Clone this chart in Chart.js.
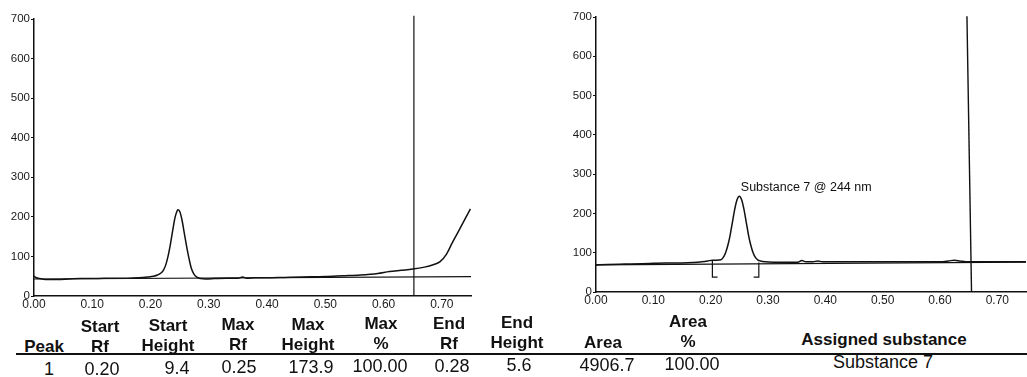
<!DOCTYPE html>
<html lang="en">
<head>
    <meta charset="UTF-8">
    <title>Densitogram - Substance 7</title>
    <script src="https://cdn.jsdelivr.net/npm/chart.js"></script>
    <style>
        body {
            margin: 0;
            background: #fff;
            font-family: 'Liberation Sans', Arial, sans-serif;
            color: #111;
        }
        .page {
            position: relative;
            width: 1027px;
            height: 377px;
            overflow: hidden;
        }
        canvas {
            position: absolute;
            top: 0;
        }
        #leftChart { left: 0; }
        #rightChart { left: 540px; }
        .cell {
            position: absolute;
            white-space: nowrap;
            transform: translate(-50%, -50%);
            line-height: 1;
        }
        .head { font-weight: bold; font-size: 17px; }
        .val { font-size: 18px; }
        .rule {
            position: absolute;
            left: 16px;
            right: 0;
            top: 353px;
            height: 1.5px;
            background: #111;
        }
    </style>
</head>
<body>
<div class="page">
    <canvas id="leftChart" width="480" height="320"></canvas>
    <canvas id="rightChart" width="487" height="320"></canvas>
    <div class="rule"></div>
    <div id="table"></div>
</div>

<script>
// Rf tick labels shared by both tracks
const rfTicks = [0, 0.1, 0.2, 0.3, 0.4, 0.5, 0.6, 0.7];

// track 1 (left)
const leftRf = [0.000, 0.004, 0.010, 0.020, 0.040, 0.060, 0.080, 0.100, 0.120, 0.140, 0.160, 0.180,
    0.195, 0.205, 0.212, 0.218, 0.222, 0.226, 0.230, 0.234, 0.238, 0.242, 0.245, 0.247, 0.250,
    0.254, 0.258, 0.262, 0.266, 0.270, 0.275, 0.280, 0.286, 0.295, 0.310, 0.330, 0.350, 0.358,
    0.365, 0.380, 0.400, 0.430, 0.460, 0.500, 0.530, 0.560, 0.590, 0.610, 0.630, 0.650, 0.670,
    0.685, 0.697, 0.708, 0.718, 0.728, 0.738, 0.749];
const leftSignal = [50, 46, 44, 42, 42, 43, 44, 44, 45, 45, 45, 46,
    48, 50, 53, 58, 65, 78, 100, 130, 165, 198, 213, 218, 214,
    192, 158, 125, 95, 70, 54, 47, 44, 43, 44, 45, 45, 48,
    45, 46, 46, 47, 48, 49, 51, 53, 57, 62, 65, 68, 73,
    79, 87, 106, 135, 162, 190, 220];
const leftBaseRf = [0, 0.75];
const leftBaseSignal = [43, 49];
const leftEndRf = 0.652;

// track 2 (right)
const rightRf = [0.000, 0.020, 0.050, 0.080, 0.100, 0.120, 0.150, 0.170, 0.185, 0.195,
    0.203, 0.210, 0.218, 0.222, 0.226, 0.230, 0.234, 0.238, 0.242, 0.246,
    0.250, 0.254, 0.258, 0.262, 0.266, 0.270, 0.274, 0.278, 0.282, 0.287,
    0.295, 0.310, 0.340, 0.352, 0.359, 0.366, 0.378, 0.387, 0.395, 0.420,
    0.460, 0.500, 0.550, 0.600, 0.615, 0.625, 0.635, 0.645, 0.680, 0.720, 0.750];
const rightSignal = [69, 70, 71, 72, 73, 74, 74, 75, 77, 79,
    81, 81, 82, 88, 100, 119, 145, 178, 211, 235,
    244, 235, 211, 178, 145, 119, 100, 88, 82, 79,
    77, 76, 76, 76, 80, 77, 77, 79, 77, 77,
    77, 77, 77, 77, 79, 81, 79, 77, 77, 77, 77];
const rightBaseRf = [0, 0.75];
const rightBaseSignal = [69, 76];
const rightEndRf = [0.655, 0.647];   // bottom, top (scan is slightly skewed)
const peakStartRf = 0.203;
const peakEndRf = 0.284;
const peakLabel = 'Substance 7 @ 244 nm';

// peak table
const headTop = ['', 'Start', 'Start', 'Max', 'Max', 'Max', 'End', 'End', '', 'Area', ''];
const headBottom = ['Peak', 'Rf', 'Height', 'Rf', 'Height', '%', 'Rf', 'Height', 'Area', '%', 'Assigned substance'];
const peakRow = ['1', '0.20', '9.4', '0.25', '173.9', '100.00', '0.28', '5.6', '4906.7', '100.00', 'Substance 7'];

// column layout (px)
const colX = [44, 100, 168, 238, 308, 381, 449, 517, 603, 688, 884];
const valShift = [5, 2, 9, 1, 3, -1, 3, 2, 4, 4, -1];

const FONT = "'Liberation Sans', Arial, sans-serif";
const INK = '#111';

function pts(xs, ys) {
    return xs.map((x, i) => ({ x: x, y: ys[i] }));
}

function lineSet(data, width, smooth) {
    return {
        data: data,
        borderColor: INK,
        borderWidth: width,
        pointRadius: 0,
        fill: false,
        clip: false,
        tension: 0,
        cubicInterpolationMode: smooth ? 'monotone' : 'default'
    };
}

// draws the substance name next to the peak
const peakText = {
    id: 'peakText',
    afterDatasetsDraw(chart, args, opts) {
        if (!opts.text) return;
        const c = chart.ctx;
        c.save();
        c.font = '12.5px ' + FONT;
        c.fillStyle = INK;
        c.textBaseline = 'middle';
        c.fillText(opts.text, chart.scales.x.getPixelForValue(opts.x), chart.scales.y.getPixelForValue(opts.y));
        c.restore();
    }
};

function makeChart(id, datasets, yWidth, xHeight, pad, label) {
    return new Chart(document.getElementById(id), {
        type: 'line',
        data: { datasets: datasets },
        options: {
            responsive: false,
            animation: false,
            layout: { padding: pad },
            plugins: {
                legend: { display: false },
                tooltip: { enabled: false },
                peakText: label || {}
            },
            scales: {
                x: {
                    type: 'linear',
                    min: 0,
                    max: 0.75,
                    afterFit: s => { s.height = xHeight; },
                    afterBuildTicks: s => { s.ticks = rfTicks.map(v => ({ value: v })); },
                    grid: { display: false, drawTicks: false },
                    border: { display: true, color: INK, width: 1.5 },
                    ticks: {
                        padding: 1,
                        maxRotation: 0,
                        autoSkip: false,
                        color: '#1a1a1a',
                        font: { family: FONT, size: 12 },
                        callback: v => v.toFixed(2)
                    }
                },
                y: {
                    min: 0,
                    max: 700,
                    afterFit: s => { s.width = yWidth; },
                    grid: { drawOnChartArea: false, drawTicks: true, tickLength: 3, color: INK },
                    border: { display: true, color: INK, width: 1.5 },
                    ticks: {
                        stepSize: 100,
                        padding: 1,
                        color: '#1a1a1a',
                        font: { family: FONT, size: 11.5 }
                    }
                }
            }
        },
        plugins: [peakText]
    });
}

makeChart('leftChart', [
    lineSet(pts(leftRf, leftSignal), 1.5, true),
    lineSet(pts(leftBaseRf, leftBaseSignal), 1.2, false),
    lineSet(pts([leftEndRf, leftEndRf], [0, 708]), 1.2, false)
], 34, 24, { top: 19, right: 9 });

makeChart('rightChart', [
    lineSet(pts(rightRf, rightSignal), 1.5, true),
    lineSet(pts(rightBaseRf, rightBaseSignal), 1.2, false),
    lineSet(pts(rightEndRf, [0, 702]), 1.4, false),
    lineSet(pts([peakStartRf, peakStartRf, peakStartRf + 0.009], [81, 38, 38]), 1.2, false),
    lineSet(pts([peakEndRf, peakEndRf, peakEndRf - 0.009], [75, 38, 38]), 1.2, false)
], 56, 28, { top: 17, right: 1 }, { text: peakLabel, x: 0.2526, y: 265 });

// table below the plots
const table = document.getElementById('table');
function cell(text, cls, x, y) {
    if (!text) return;
    const d = document.createElement('div');
    d.className = 'cell ' + cls;
    d.textContent = text;
    d.style.left = x + 'px';
    d.style.top = (y + (300 - x) * 0.008) + 'px';
    table.appendChild(d);
}
colX.forEach((x, i) => {
    cell(headTop[i], 'head', x, 324);
    cell(headBottom[i], 'head', x, 344);
    cell(peakRow[i], 'val', x + valShift[i], 367);
});
</script>
</body>
</html>
